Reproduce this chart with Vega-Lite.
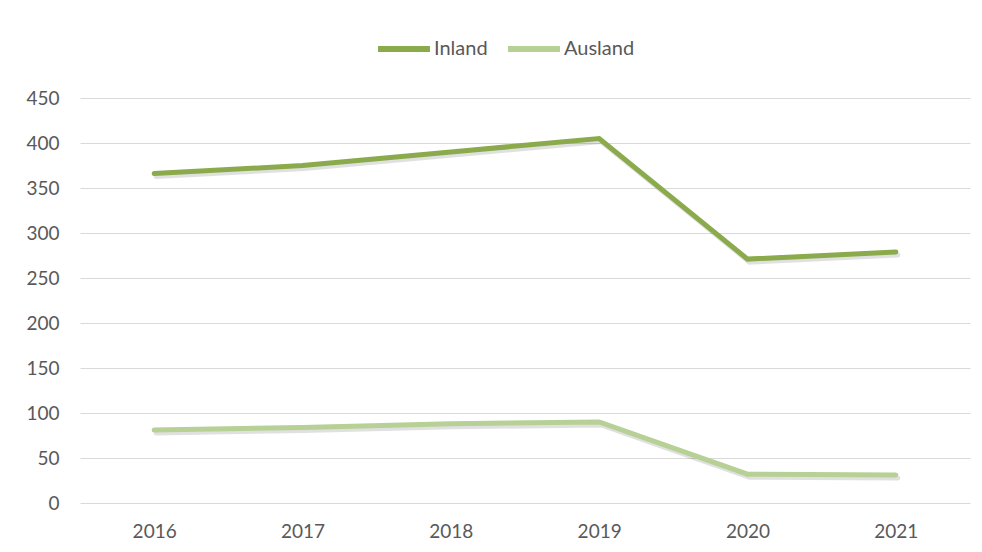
{
  "$schema": "https://vega.github.io/schema/vega-lite/v6.json",
  "width": 890,
  "height": 405,
  "autosize": {"type": "none"},
  "padding": {"left": 80, "top": 98, "right": 12, "bottom": 49},
  "background": "white",
  "config": {
    "view": {"stroke": null},
    "font": "Lato",
    "axis": {"labelFont": "Lato", "labelFontSize": 19, "labelColor": "#595959", "ticks": false, "domain": false, "gridColor": "#d9d9d9", "gridWidth": 1}
  },
  "data": {
    "values": [
      {"year": "2016", "series": "Inland", "value": 366},
      {"year": "2017", "series": "Inland", "value": 375},
      {"year": "2018", "series": "Inland", "value": 390},
      {"year": "2019", "series": "Inland", "value": 405},
      {"year": "2020", "series": "Inland", "value": 271},
      {"year": "2021", "series": "Inland", "value": 279},
      {"year": "2016", "series": "Ausland", "value": 81},
      {"year": "2017", "series": "Ausland", "value": 84},
      {"year": "2018", "series": "Ausland", "value": 88},
      {"year": "2019", "series": "Ausland", "value": 90},
      {"year": "2020", "series": "Ausland", "value": 32},
      {"year": "2021", "series": "Ausland", "value": 31}
    ]
  },
  "encoding": {
    "x": {"field": "year", "type": "ordinal", "scale": {"type": "point", "padding": 0.5}, "axis": {"title": null, "labelAngle": 0, "labelPadding": 19, "grid": false}},
    "y": {"field": "value", "type": "quantitative", "scale": {"domain": [0, 450]}, "axis": {"title": null, "values": [0, 50, 100, 150, 200, 250, 300, 350, 400, 450], "labelPadding": 21, "grid": true}}
  },
  "layer": [
    {
      "mark": {"type": "line", "strokeWidth": 5, "strokeCap": "round", "strokeJoin": "miter", "color": "#000000", "opacity": 0.12, "xOffset": 2, "yOffset": 3},
      "encoding": {"detail": {"field": "series"}}
    },
    {
      "mark": {"type": "line", "strokeWidth": 5, "strokeCap": "round", "strokeJoin": "miter"},
      "encoding": {
        "color": {
          "field": "series",
          "type": "nominal",
          "scale": {"domain": ["Inland", "Ausland"], "range": ["#8aaa4b", "#b6d095"]},
          "legend": {
            "title": null,
            "orient": "none",
            "legendX": 295,
            "legendY": -78,
            "direction": "horizontal",
            "symbolType": "stroke",
            "symbolSize": 2700,
            "symbolStrokeWidth": 6,
            "labelFont": "Lato",
            "labelFontSize": 20,
            "labelColor": "#595959",
            "labelOffset": 1,
            "columnPadding": 8
          }
        }
      }
    }
  ]
}
